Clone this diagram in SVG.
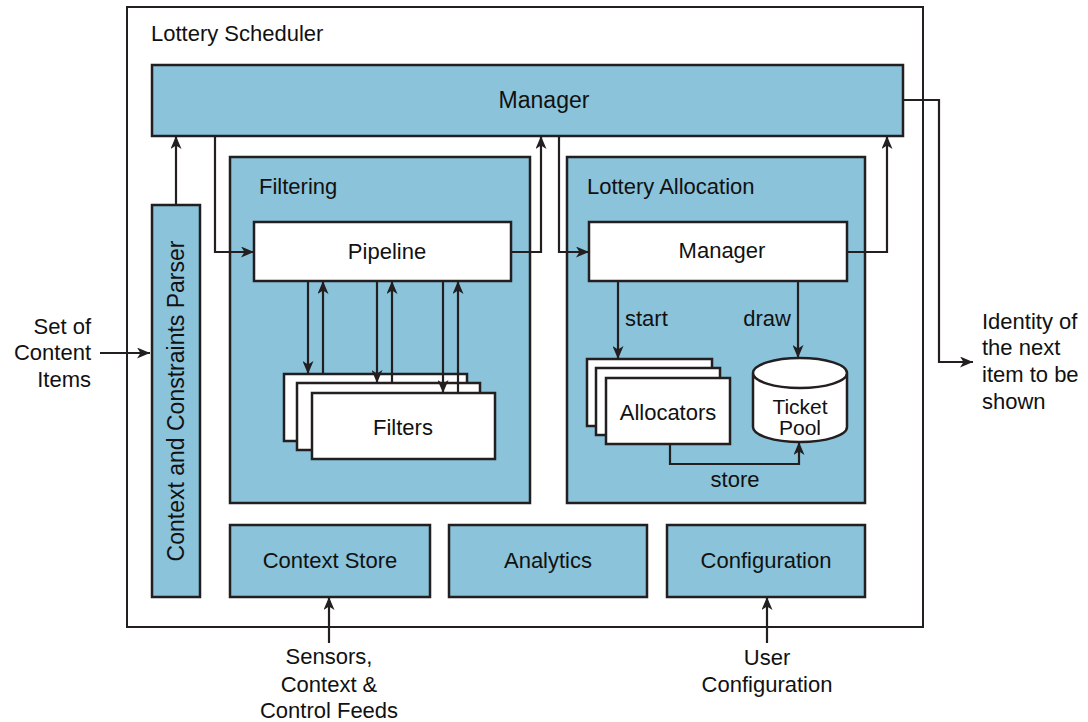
<svg xmlns="http://www.w3.org/2000/svg" width="1088" height="722" viewBox="0 0 1088 722">
  <defs>
    <marker id="arrow" viewBox="0 0 13 11" refX="13" refY="5.5" markerWidth="13" markerHeight="11" markerUnits="userSpaceOnUse" orient="auto">
      <path d="M0,0 L13,5.5 L0,11 L3.5,5.5 Z" fill="#231f20"/>
    </marker>
    <style>
      text { font-family: "Liberation Sans", Arial, sans-serif; font-size: 22px; fill: #111; }
      .mid { text-anchor: middle; }
      .end { text-anchor: end; }
      .blue { fill: #8ac3da; stroke: #231f20; stroke-width: 2.5; }
      .white { fill: #ffffff; stroke: #231f20; stroke-width: 2.5; }
      .frame { fill: #ffffff; stroke: #231f20; stroke-width: 2; }
      .conn { fill: none; stroke: #231f20; stroke-width: 2.2; }
      .arr { marker-end: url(#arrow); }
    </style>
  </defs>

  <!-- outer frame -->
  <g id="lottery-scheduler">
    <rect class="frame" x="127" y="7" width="796" height="620"/>
    <text x="151" y="41">Lottery Scheduler</text>
  </g>

  <g id="manager">
    <rect class="blue" x="152" y="65" width="751" height="71"/>
    <text class="mid" x="544" y="108" style="font-size:23px">Manager</text>
  </g>

  <g id="parser">
    <rect class="blue" x="152" y="205" width="48" height="392"/>
    <text class="mid" transform="translate(184,401) rotate(-90)" style="font-size:23px">Context and Constraints Parser</text>
  </g>

  <g id="filtering">
    <rect class="blue" x="230" y="157" width="300" height="346"/>
    <text x="259" y="194">Filtering</text>
  </g>

  <g id="pipeline">
    <rect class="white" x="254" y="222" width="257" height="59"/>
    <text class="mid" x="387" y="259">Pipeline</text>
  </g>

  <g id="filters">
    <rect class="white" x="284" y="374" width="183" height="67"/>
    <rect class="white" x="297" y="383" width="183" height="67"/>
    <rect class="white" x="312" y="393" width="183" height="66"/>
    <text class="mid" x="403" y="435">Filters</text>
  </g>

  <g id="lottery-allocation">
    <rect class="blue" x="567" y="157" width="298" height="346"/>
    <text x="587" y="194">Lottery Allocation</text>
  </g>

  <g id="allocation-manager">
    <rect class="white" x="589" y="222" width="258" height="59"/>
    <text class="mid" x="722" y="258">Manager</text>
  </g>

  <g id="allocators">
    <rect class="white" x="587" y="359" width="125" height="67"/>
    <rect class="white" x="596" y="368" width="124" height="67"/>
    <rect class="white" x="606" y="378" width="124" height="66"/>
    <text class="mid" x="668" y="420">Allocators</text>
  </g>

  <g id="ticket-pool">
    <path class="white" d="M753,373 V427 A47,15 0 0 0 847,427 V373 A47,15 0 0 0 753,373 A47,15 0 0 0 847,373"/>
    <text class="mid" x="800" y="414" style="font-size:21px">Ticket</text>
    <text class="mid" x="800" y="435" style="font-size:21px">Pool</text>
  </g>

  <g id="context-store">
    <rect class="blue" x="230" y="525" width="200" height="72"/>
    <text class="mid" x="330" y="568">Context Store</text>
  </g>

  <g id="analytics">
    <rect class="blue" x="449" y="525" width="198" height="72"/>
    <text class="mid" x="548" y="568">Analytics</text>
  </g>

  <g id="configuration">
    <rect class="blue" x="667" y="525" width="198" height="72"/>
    <text class="mid" x="766" y="568">Configuration</text>
  </g>

  <!-- external inputs and outputs -->
  <g id="content-items">
    <text class="end" x="91" y="334">Set of</text>
    <text class="end" x="91" y="360">Content</text>
    <text class="end" x="91" y="387">Items</text>
  </g>

  <g id="next-item">
    <text x="982" y="329">Identity of</text>
    <text x="982" y="355">the next</text>
    <text x="982" y="382">item to be</text>
    <text x="982" y="409">shown</text>
  </g>

  <g id="feeds">
    <text class="mid" x="329" y="664">Sensors,</text>
    <text class="mid" x="329" y="692">Context &amp;</text>
    <text class="mid" x="329" y="718">Control Feeds</text>
  </g>

  <g id="user-configuration">
    <text class="mid" x="767" y="665">User</text>
    <text class="mid" x="767" y="692">Configuration</text>
  </g>

  <!-- connectors -->
  <g id="connectors">
    <path class="conn arr" d="M176,205 V136"/>
    <path class="conn arr" d="M100,353 H150"/>
    <path class="conn arr" d="M215,136 V252 H254"/>
    <path class="conn arr" d="M511,252 H541 V136"/>
    <path class="conn arr" d="M559,136 V252 H589"/>
    <path class="conn arr" d="M847,252 H887 V136"/>
    <path class="conn arr" d="M903,100 H939 V362 H973"/>

    <path class="conn arr" d="M308,281 V374"/>
    <path class="conn arr" d="M323,374 V281"/>
    <path class="conn arr" d="M377,281 V383"/>
    <path class="conn arr" d="M392,383 V281"/>
    <path class="conn arr" d="M443,281 V393"/>
    <path class="conn arr" d="M458,393 V281"/>

    <path class="conn arr" d="M618,281 V359"/>
    <path class="conn arr" d="M798,281 V358"/>
    <path class="conn arr" d="M670,444 V464 H799 V442"/>

    <path class="conn arr" d="M329,643 V597"/>
    <path class="conn arr" d="M767,643 V597"/>
  </g>

  <g id="edge-labels">
    <text x="625" y="326">start</text>
    <text class="end" x="791" y="326">draw</text>
    <text class="mid" x="735" y="487">store</text>
  </g>
</svg>
